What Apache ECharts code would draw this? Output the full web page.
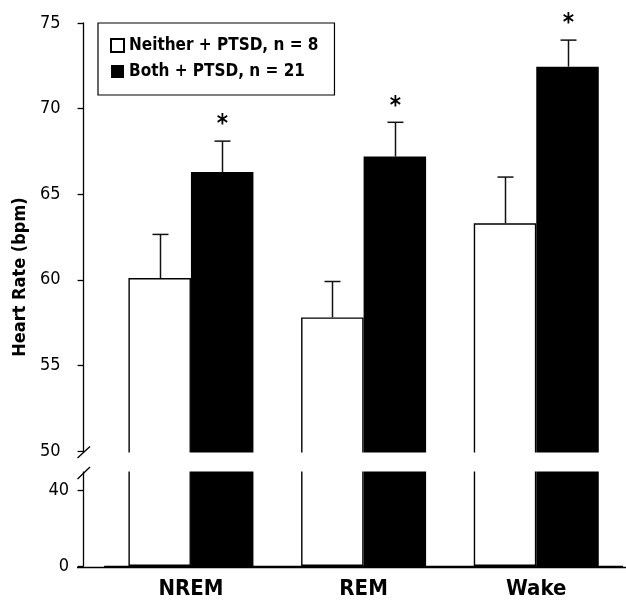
<!DOCTYPE html>
<html>
<head>
<meta charset="utf-8">
<script src="https://cdn.jsdelivr.net/npm/echarts@6/dist/echarts.min.js"></script>
<style>html,body{margin:0;padding:0;background:#fff}#c{width:626px;height:600px}</style>
</head>
<body>
<div id="c"></div>
<script>
const categories = ['NREM', 'REM', 'Wake'];
const neitherMean = [60.1, 57.8, 63.3];
const neitherSem = [2.55, 2.1, 2.7];
const bothMean = [66.3, 67.2, 72.45];
const bothSem = [1.8, 2.0, 1.55];
const bothSig = [true, true, true];
const upperTicks = [50, 55, 60, 65, 70, 75];
const lowerTicks = [0, 40];
const seriesNames = ['Neither + PTSD, n = 8', 'Both + PTSD, n = 21'];

const FONT = "'Liberation Sans Narrow', 'DejaVu Sans Condensed', 'Liberation Sans', sans-serif";
const BAR_W = 62.5;

const chart = echarts.init(document.getElementById('c'), null, {renderer: 'canvas'});

function errSeries(means, sems, sign, sig) {
  return {
    type: 'custom',
    name: 'err' + sign,
    xAxisIndex: 0, yAxisIndex: 0,
    clip: false,
    z: 5,
    data: means.map((m, i) => [i, m, m + sems[i], sig ? (sig[i] ? 1 : 0) : 0]),
    renderItem: function (params, api) {
      const top = api.coord([api.value(0), api.value(2)]);
      const base = api.coord([api.value(0), api.value(1)]);
      const x = Math.round(top[0] + sign * BAR_W / 2) + 0.5;
      const children = [
        {type: 'line', shape: {x1: x, y1: base[1], x2: x, y2: top[1]}, style: {stroke: '#111', lineWidth: 1.5}},
        {type: 'line', shape: {x1: x - 8, y1: top[1], x2: x + 8, y2: top[1]}, style: {stroke: '#111', lineWidth: 1.5}}
      ];
      if (api.value(3)) {
        children.push({type: 'text', x: x, y: top[1] - 16, style: {text: '*', fontSize: 24, fontWeight: 'bold', fontFamily: FONT, fill: '#000', align: 'center', verticalAlign: 'middle'}});
      }
      return {type: 'group', children: children};
    }
  };
}

const whiteStyle = {color: '#fff', borderColor: '#000', borderWidth: 1.4};
const blackStyle = {color: '#000', borderColor: '#000', borderWidth: 0};

const option = {
  animation: false,
  backgroundColor: '#fff',
  grid: [
    {left: 104.6, right: 3.4, top: 23, bottom: 131.9},
    {left: 104.6, right: 3.4, top: 468, bottom: 32.5}
  ],
  legend: {
    data: seriesNames,
    orient: 'vertical',
    left: 98, top: 23,
    padding: [14, 16, 15, 12],
    itemGap: 9,
    itemWidth: 13, itemHeight: 13,
    icon: 'rect',
    borderColor: '#000', borderWidth: 1.2,
    backgroundColor: '#fff',
    textStyle: {fontFamily: FONT, fontSize: 17, fontWeight: 'bold', color: '#000'},
    selectedMode: false
  },
  xAxis: [
    {type: 'category', gridIndex: 0, data: categories, show: false},
    {type: 'category', gridIndex: 1, data: categories,
     axisLine: {lineStyle: {color: '#000', width: 1.3}}, axisTick: {show: false},
     axisLabel: {fontFamily: FONT, fontSize: 22, fontWeight: 'bold', color: '#000', margin: 12}}
  ],
  yAxis: [
    {type: 'value', gridIndex: 0, min: 49, max: 75, offset: 21,
     axisLine: {show: true, lineStyle: {color: '#000', width: 1.3}},
     axisTick: {show: true, length: 6, customValues: upperTicks, lineStyle: {color: '#000', width: 1.3}},
     axisLabel: {customValues: upperTicks, fontFamily: FONT, fontSize: 18, color: '#000', margin: 23},
     splitLine: {show: false}},
    {type: 'value', gridIndex: 1, min: 0, max: 52, offset: 21,
     axisLine: {show: true, lineStyle: {color: '#000', width: 1.3}},
     axisTick: {show: true, length: 6, customValues: lowerTicks, lineStyle: {color: '#000', width: 1.3}},
     axisLabel: {customValues: lowerTicks, fontFamily: FONT, fontSize: 18, color: '#000', margin: 14.5},
     splitLine: {show: false}}
  ],
  series: [
    {type: 'bar', name: seriesNames[0], xAxisIndex: 0, yAxisIndex: 0, data: neitherMean, barWidth: BAR_W, barGap: '0%', itemStyle: whiteStyle},
    {type: 'bar', name: seriesNames[1], xAxisIndex: 0, yAxisIndex: 0, data: bothMean, barWidth: BAR_W, barGap: '0%', itemStyle: blackStyle},
    {type: 'bar', name: seriesNames[0], xAxisIndex: 1, yAxisIndex: 1, data: neitherMean, barWidth: BAR_W, barGap: '0%', itemStyle: whiteStyle},
    {type: 'bar', name: seriesNames[1], xAxisIndex: 1, yAxisIndex: 1, data: bothMean, barWidth: BAR_W, barGap: '0%', itemStyle: blackStyle},
    errSeries(neitherMean, neitherSem, -1, null),
    errSeries(bothMean, bothSem, 1, bothSig)
  ],
  graphic: [
    {type: 'rect', z: 100, shape: {x: 78, y: 452.5, width: 548, height: 19}, style: {fill: '#fff'}},
    {type: 'line', z: 101, shape: {x1: 77.5, y1: 458, x2: 90, y2: 446.5}, style: {stroke: '#000', lineWidth: 1.3}},
    {type: 'line', z: 101, shape: {x1: 77.5, y1: 479, x2: 90, y2: 467}, style: {stroke: '#000', lineWidth: 1.3}},
    {type: 'line', z: 101, shape: {x1: 77, y1: 567.5, x2: 626, y2: 567.5}, style: {stroke: '#000', lineWidth: 1.3}},
    {type: 'text', z: 101, x: 20, y: 277, rotation: Math.PI / 2,
     style: {text: 'Heart Rate (bpm)', fontFamily: FONT, fontSize: 18, fontWeight: 'bold', fill: '#000', align: 'center', verticalAlign: 'middle'}}
  ]
};
chart.setOption(option);
</script>
</body>
</html>
